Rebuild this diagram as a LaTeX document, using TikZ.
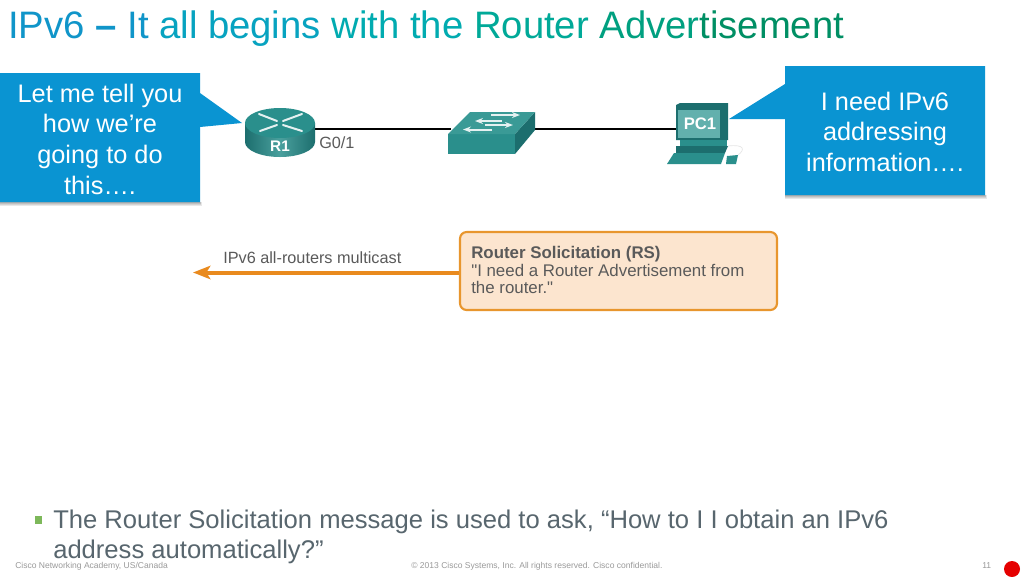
\documentclass[tikz,border=0pt]{standalone}
\usepackage{fontspec}
\setmainfont{Liberation Sans}
\newfontfamily\plainquotes{Liberation Sans}
\usetikzlibrary{arrows.meta,calc}
\definecolor{calloutblue}{HTML}{0A94D2}
\definecolor{teal1}{HTML}{2A8F8C}
\definecolor{teal2}{HTML}{1C6E6E}
\definecolor{teal3}{HTML}{3A9A96}
\definecolor{teal4}{HTML}{62B0AD}
\definecolor{rsfill}{HTML}{FCE5CF}
\definecolor{rsline}{HTML}{E8962E}
\definecolor{arrowor}{HTML}{E98A1E}
\definecolor{bodygray}{HTML}{58666E}
\definecolor{labelgray}{HTML}{5A5A5A}
\definecolor{footgray}{HTML}{9A9A9A}
\definecolor{bulletgreen}{HTML}{7DB85A}
\definecolor{tA}{HTML}{1095C9}
\definecolor{tB}{HTML}{07A3C0}
\definecolor{tC}{HTML}{01ABB0}
\definecolor{tD}{HTML}{00A998}
\definecolor{tE}{HTML}{00A080}
\definecolor{tF}{HTML}{008F64}
\tikzset{
  anchorbox/.style={inner sep=0pt,outer sep=0pt,minimum height=2pt},
  callouttext/.style={text=white,align=center,font=\fontsize{19}{22.9}\selectfont,inner sep=0pt},
  calloutfill/.style={fill=calloutblue,draw=none},
  softshadow/.style={fill=black,opacity=0.09,draw=none},
  devlabel/.style={text=white,font=\fontsize{11.5}{12}\selectfont\bfseries,inner sep=0pt},
  graylabel/.style={text=labelgray,font=\fontsize{12.2}{14}\selectfont,inner sep=0pt},
  footnote/.style={text=footgray,font=\fontsize{6.4}{7}\selectfont,inner sep=0pt,anchor=base west},
  bodytext/.style={text=bodygray,font=\fontsize{19.2}{22.5}\selectfont,inner sep=0pt,anchor=base west},
  iconstroke/.style={white!88!teal1,line width=1.5pt,line cap=round},
}
\begin{document}
\begin{tikzpicture}[x=0.75pt,y=-0.75pt]
\useasboundingbox (0,0) rectangle (1024,576);
\fill[white] (0,0) rectangle (1024,576);

% title
\node[anchor=base west,inner sep=0pt,font=\fontsize{28.7}{30}\selectfont] (title) at (8,38)
  {\textcolor{tA}{IPv6 \textbf{–} It} \textcolor{tB}{all begins} \textcolor{tC}{with the} \textcolor{tD}{Router} \textcolor{tE}{Adver}\textcolor{tF}{tisement}};

% connector anchors and link
\node[anchorbox,minimum width=52pt] (r1) at (280,129) {};
\node[anchorbox,minimum width=60pt] (sw) at (491,129) {};
\node[anchorbox,minimum width=38pt] (pc) at (702,129) {};
\draw[black,line width=1.6pt] (r1) -- (sw) -- (pc);

% router
\shade[left color=teal2,right color=teal2,middle color=teal1!85!white] (245,123) -- (245,142) arc[x radius=35,y radius=15,start angle=180,end angle=0] -- (315,123) -- cycle;
\fill[teal1] (280,123) ellipse[x radius=35,y radius=15];
\begin{scope}[iconstroke]
  \draw (259,114) -- (277,121);
  \draw (302,114) -- (283,121);
  \draw (260,131) -- (277,125);
  \draw (302,131) -- (283,125);
\end{scope}
\node[devlabel] (r1label) at (280,146) {R1};
\node[graylabel,anchor=base west] (g01) at (319,148) {G0/1};

% switch
\fill[teal1] (448,134) -- (515,134) -- (515,154) -- (448,154) -- cycle;
\fill[teal2] (515,134) -- (535,112) -- (535,130) -- (515,154) -- cycle;
\fill[teal3] (448,134) -- (470,112) -- (535,112) -- (515,134) -- cycle;
\begin{scope}[iconstroke,line cap=butt]
  \draw[-{Stealth[length=6pt,width=4.5pt]}] (502,121) -- (475,121);
  \draw[-{Stealth[length=6pt,width=4.5pt]}] (491,115) -- (520,115);
  \draw[-{Stealth[length=6pt,width=4.5pt]}] (485,125) -- (513,125);
  \draw[-{Stealth[length=6pt,width=4.5pt]}] (492,129.5) -- (463,129.5);
\end{scope}

% PC
\draw[black!10,line width=0.5pt] (728,146) .. controls (745,144) and (745,150) .. (738,155);
\fill[teal2] (676,105) -- (680,103) -- (728,103) -- (728,140) -- (676,140) -- cycle;
\fill[teal4] (678,110) rectangle (720,138);
\node[devlabel,font=\fontsize{12.5}{13}\selectfont\bfseries] (pclabel) at (700,124) {PC1};
\fill[teal1] (680,140) rectangle (727,146);
\fill[teal2] (676,146) -- (728,146) -- (725,153) -- (676,153) -- cycle;
\fill[teal1] (667,164) -- (674,153) -- (725,153) -- (721,164) -- cycle;
\fill[teal1] (727,156) -- (738,155) -- (736,164) -- (726,164) -- cycle;

% left callout
\foreach \d in {1,2,3,4,5} {\fill[softshadow] (0,202) rectangle (199+\d/2,201+\d);}
\path[calloutfill] (0,73) -- (200,73) -- (200,93) -- (242,123) -- (200,127) -- (200,202) -- (0,202) -- cycle;
\node[callouttext] (lefttext) at (100,139.2) {Let me tell you\\how we’re\\going to do\\this….};

% right callout
\foreach \d in {1,2,3,4,5} {\fill[softshadow] (785,195) rectangle (984+\d/2,194+\d);}
\path[calloutfill] (785,66) -- (985,66) -- (985,195) -- (785,195) -- (785,119) -- (729,119) -- (785,84) -- cycle;
\node[callouttext] (righttext) at (885,131.7) {I need IPv6\\addressing\\information….};

% RS box and arrow
\node[draw=rsline,fill=rsfill,line width=1.6pt,rounded corners=5pt,minimum width=237.75pt,minimum height=58.5pt,inner sep=0pt] (rs) at (618.5,271) {};
\coordinate (mcast) at (193,272.5);
\draw[arrowor,line width=3pt,-{Stealth[length=13pt,width=10pt,inset=3pt]}] (rs.west |- mcast) -- (mcast);
\node[graylabel,anchor=base west] (mclabel) at (223,263) {IPv6 all-routers multicast};
\node[anchor=north west,align=left,inner sep=0pt,text=labelgray,font=\plainquotes\fontsize{12.65}{13.3}\selectfont] (rstext) at (471,246)
  {\textbf{Router Solicitation (RS)}\\"I need a Router Advertisement from\\the router."};

% bullet text
\fill[bulletgreen] (35,516) rectangle (42,524);
\node[bodytext] (b1) at (53,528) {The Router Solicitation message is used to ask, “How to I I obtain an IPv6};
\node[bodytext] (b2) at (53,558) {address automatically?”};

% footer
\node[footnote] (f1) at (15,568) {Cisco Networking Academy, US/Canada};
\node[footnote] (f2) at (411,568) {© 2013 Cisco Systems, Inc. All rights reserved. Cisco confidential.};
\node[footnote] (f3) at (982,568) {11};
\fill[red!90!black] (1012,569) ellipse[x radius=8,y radius=8];
\end{tikzpicture}
\end{document}
